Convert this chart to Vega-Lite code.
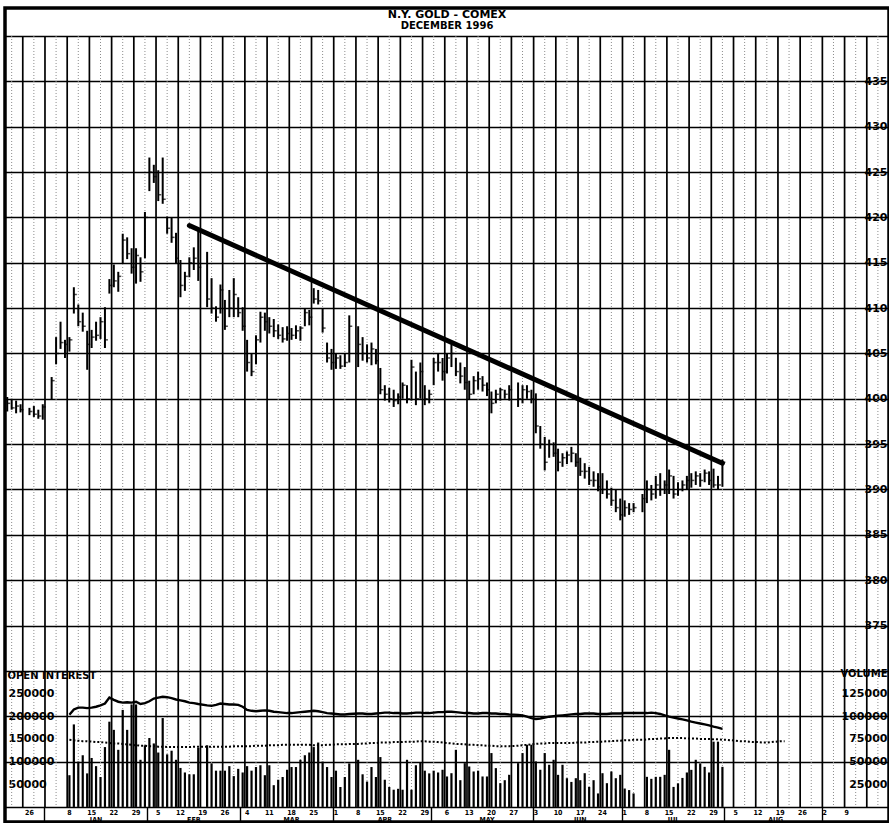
{
  "$schema": "https://vega.github.io/schema/vega-lite/v6.json",
  "width": 884,
  "height": 814,
  "autosize": "none",
  "padding": {"left": 5, "top": 8, "right": 0, "bottom": 1},
  "background": "white",
  "config": {
    "view": {"stroke": "black", "strokeWidth": 3.5},
    "axis": {"labelColor": "black", "titleColor": "black", "labelFont": "DejaVu Sans", "titleFont": "DejaVu Sans", "labelFontWeight": "bold", "titleFontWeight": "bold", "labelOverlap": false, "labelFlush": false}
  },
  "title": {
    "text": "N.Y. GOLD - COMEX",
    "subtitle": "DECEMBER 1996",
    "anchor": "middle",
    "frame": "group",
    "offset": -23,
    "font": "DejaVu Sans",
    "fontSize": 11,
    "fontWeight": "bold",
    "color": "black",
    "subtitleFont": "DejaVu Sans",
    "subtitleFontSize": 10,
    "subtitleFontWeight": "bold",
    "subtitleColor": "black",
    "subtitlePadding": 1
  },
  "datasets": {
    "weeks": [
      {"d": "1995-12-25"}, {"d": "1996-01-01"}, {"d": "1996-01-08"}, {"d": "1996-01-15"}, {"d": "1996-01-22"}, {"d": "1996-01-29"},
      {"d": "1996-02-05"}, {"d": "1996-02-12"}, {"d": "1996-02-19"}, {"d": "1996-02-26"}, {"d": "1996-03-04"}, {"d": "1996-03-11"},
      {"d": "1996-03-18"}, {"d": "1996-03-25"}, {"d": "1996-04-01"}, {"d": "1996-04-08"}, {"d": "1996-04-15"}, {"d": "1996-04-22"},
      {"d": "1996-04-29"}, {"d": "1996-05-06"}, {"d": "1996-05-13"}, {"d": "1996-05-20"}, {"d": "1996-05-27"}, {"d": "1996-06-03"},
      {"d": "1996-06-10"}, {"d": "1996-06-17"}, {"d": "1996-06-24"}, {"d": "1996-07-01"}, {"d": "1996-07-08"}, {"d": "1996-07-15"},
      {"d": "1996-07-22"}, {"d": "1996-07-29"}, {"d": "1996-08-05"}, {"d": "1996-08-12"}, {"d": "1996-08-19"}, {"d": "1996-08-26"},
      {"d": "1996-09-02"}, {"d": "1996-09-09"}, {"d": "1996-09-16"}
    ],
    "mids": [
      {"d": "1995-12-20"}, {"d": "1995-12-27"}, {"d": "1996-01-03"}, {"d": "1996-01-10"}, {"d": "1996-01-17"}, {"d": "1996-01-24"},
      {"d": "1996-01-31"}, {"d": "1996-02-07"}, {"d": "1996-02-14"}, {"d": "1996-02-21"}, {"d": "1996-02-28"}, {"d": "1996-03-06"},
      {"d": "1996-03-13"}, {"d": "1996-03-20"}, {"d": "1996-03-27"}, {"d": "1996-04-03"}, {"d": "1996-04-10"}, {"d": "1996-04-17"},
      {"d": "1996-04-24"}, {"d": "1996-05-01"}, {"d": "1996-05-08"}, {"d": "1996-05-15"}, {"d": "1996-05-22"}, {"d": "1996-05-29"},
      {"d": "1996-06-05"}, {"d": "1996-06-12"}, {"d": "1996-06-19"}, {"d": "1996-06-26"}, {"d": "1996-07-03"}, {"d": "1996-07-10"},
      {"d": "1996-07-17"}, {"d": "1996-07-24"}, {"d": "1996-07-31"}, {"d": "1996-08-07"}, {"d": "1996-08-14"}, {"d": "1996-08-21"},
      {"d": "1996-08-28"}, {"d": "1996-09-04"}, {"d": "1996-09-11"}, {"d": "1996-09-18"}
    ],
    "trend": [
      {"d": "1996-02-14", "p": 419.1},
      {"d": "1996-07-31", "p": 392.9}
    ],
    "days": [
      {"d": "1995-12-19", "h": 400.2, "l": 398.6, "c": 399.5},
      {"d": "1995-12-20", "h": 400.0, "l": 398.8, "c": 399.0},
      {"d": "1995-12-21", "h": 399.8, "l": 398.4, "c": 399.2},
      {"d": "1995-12-22", "h": 399.4, "l": 398.5, "c": 398.8},
      {"d": "1995-12-26", "h": 399.0, "l": 398.2, "c": 398.6},
      {"d": "1995-12-27", "h": 399.2, "l": 398.0, "c": 398.3},
      {"d": "1995-12-28", "h": 398.8, "l": 397.8, "c": 398.1},
      {"d": "1995-12-29", "h": 399.4, "l": 397.7, "c": 399.1},
      {"d": "1996-01-02", "h": 402.4, "l": 399.9, "c": 402.0},
      {"d": "1996-01-03", "h": 406.8, "l": 403.8, "c": 405.0},
      {"d": "1996-01-04", "h": 408.5, "l": 405.5, "c": 406.2},
      {"d": "1996-01-05", "h": 406.5, "l": 404.5, "c": 406.0},
      {"d": "1996-01-08", "h": 406.8, "l": 405.2, "c": 406.5, "v": 35000, "oi": 203500, "oi2": 148000},
      {"d": "1996-01-09", "h": 412.3, "l": 409.4, "c": 411.5, "v": 91000, "oi": 215000, "oi2": 147000},
      {"d": "1996-01-10", "h": 410.4, "l": 408.0, "c": 408.5, "v": 50000, "oi": 219000, "oi2": 146000},
      {"d": "1996-01-11", "h": 409.5, "l": 407.4, "c": 408.0, "v": 57000, "oi": 219000, "oi2": 145000},
      {"d": "1996-01-12", "h": 407.5, "l": 403.2, "c": 406.0, "v": 37000, "oi": 218000, "oi2": 145000},
      {"d": "1996-01-15", "h": 407.6, "l": 405.6, "c": 406.8, "v": 54000, "oi": 219000, "oi2": 144000},
      {"d": "1996-01-16", "h": 408.5, "l": 406.4, "c": 407.0, "v": 45000, "oi": 221000, "oi2": 143000},
      {"d": "1996-01-17", "h": 409.0, "l": 406.6, "c": 408.5, "v": 33000, "oi": 224000, "oi2": 143000},
      {"d": "1996-01-18", "h": 410.1, "l": 405.6, "c": 406.5, "v": 66000, "oi": 228000, "oi2": 142000},
      {"d": "1996-01-19", "h": 413.2, "l": 411.6, "c": 412.5, "v": 94000, "oi": 241000, "oi2": 141000},
      {"d": "1996-01-22", "h": 414.8, "l": 412.3, "c": 413.0, "v": 85000, "oi": 236000, "oi2": 140000},
      {"d": "1996-01-23", "h": 414.0, "l": 411.8, "c": 413.5, "v": 63000, "oi": 232000, "oi2": 140000},
      {"d": "1996-01-24", "h": 418.2, "l": 414.9, "c": 417.5, "v": 107000, "oi": 230000, "oi2": 139000},
      {"d": "1996-01-25", "h": 417.8, "l": 415.4, "c": 416.0, "v": 85000, "oi": 231000, "oi2": 138000},
      {"d": "1996-01-26", "h": 416.6, "l": 413.8, "c": 414.5, "v": 113000, "oi": 230000, "oi2": 137000},
      {"d": "1996-01-29", "h": 416.6, "l": 412.7, "c": 415.8, "v": 113000, "oi": 232000, "oi2": 136000},
      {"d": "1996-01-30", "h": 415.6, "l": 412.9, "c": 414.0, "v": 52000, "oi": 227000, "oi2": 135000},
      {"d": "1996-01-31", "h": 420.6, "l": 415.5, "c": 420.0, "v": 68000, "oi": 229000, "oi2": 135000},
      {"d": "1996-02-01", "h": 426.6, "l": 422.9, "c": 425.0, "v": 76000, "oi": 233000, "oi2": 134000},
      {"d": "1996-02-02", "h": 425.8, "l": 423.8, "c": 424.5, "v": 70000, "oi": 239000, "oi2": 134000},
      {"d": "1996-02-05", "h": 425.2, "l": 421.8, "c": 422.5, "v": 60000, "oi": 241000, "oi2": 133000},
      {"d": "1996-02-06", "h": 426.6, "l": 421.5, "c": 422.0, "v": 98000, "oi": 243000, "oi2": 133000},
      {"d": "1996-02-07", "h": 420.1, "l": 418.2, "c": 418.8, "v": 58000, "oi": 242000, "oi2": 132000},
      {"d": "1996-02-08", "h": 420.0, "l": 417.2, "c": 417.8, "v": 62000, "oi": 240000, "oi2": 132000},
      {"d": "1996-02-09", "h": 418.3, "l": 414.9, "c": 415.5, "v": 52000, "oi": 237000, "oi2": 132000},
      {"d": "1996-02-12", "h": 415.3, "l": 411.2, "c": 412.5, "v": 43000, "oi": 235000, "oi2": 132000},
      {"d": "1996-02-13", "h": 414.0, "l": 411.9, "c": 413.5, "v": 38000, "oi": 233000, "oi2": 132000},
      {"d": "1996-02-14", "h": 415.6, "l": 413.4, "c": 415.0, "v": 36000, "oi": 230000, "oi2": 132000},
      {"d": "1996-02-15", "h": 416.7, "l": 414.2, "c": 415.5, "v": 36000, "oi": 229000, "oi2": 133000},
      {"d": "1996-02-16", "h": 418.8, "l": 413.0, "c": 414.5, "v": 65000, "oi": 227000, "oi2": 133000},
      {"d": "1996-02-20", "h": 416.2, "l": 410.1, "c": 411.0, "v": 68000, "oi": 224000, "oi2": 133000},
      {"d": "1996-02-21", "h": 413.3, "l": 409.4, "c": 410.0, "v": 48000, "oi": 223000, "oi2": 133000},
      {"d": "1996-02-22", "h": 410.2, "l": 408.5, "c": 409.0, "v": 40000, "oi": 225000, "oi2": 133000},
      {"d": "1996-02-23", "h": 412.6, "l": 409.4, "c": 412.0, "v": 40000, "oi": 228000, "oi2": 133000},
      {"d": "1996-02-26", "h": 410.9, "l": 407.6, "c": 408.0, "v": 40000, "oi": 227000, "oi2": 133000},
      {"d": "1996-02-27", "h": 412.0, "l": 409.0, "c": 410.0, "v": 45000, "oi": 226000, "oi2": 133000},
      {"d": "1996-02-28", "h": 413.3, "l": 409.0, "c": 411.5, "v": 34000, "oi": 226000, "oi2": 134000},
      {"d": "1996-02-29", "h": 411.2, "l": 409.0, "c": 409.5, "v": 42000, "oi": 225000, "oi2": 134000},
      {"d": "1996-03-01", "h": 410.1, "l": 407.5, "c": 408.0, "v": 38000, "oi": 221000, "oi2": 134000},
      {"d": "1996-03-04", "h": 406.5, "l": 403.0, "c": 404.0, "v": 45000, "oi": 214000, "oi2": 134000},
      {"d": "1996-03-05", "h": 405.0, "l": 402.5, "c": 403.0, "v": 40000, "oi": 212000, "oi2": 134000},
      {"d": "1996-03-06", "h": 407.0, "l": 403.8, "c": 406.5, "v": 44000, "oi": 211000, "oi2": 135000},
      {"d": "1996-03-07", "h": 409.6, "l": 406.2, "c": 409.0, "v": 46000, "oi": 212000, "oi2": 135000},
      {"d": "1996-03-08", "h": 409.5, "l": 407.5, "c": 408.5, "v": 35000, "oi": 213000, "oi2": 135000},
      {"d": "1996-03-11", "h": 409.0, "l": 407.2, "c": 408.0, "v": 46000, "oi": 212000, "oi2": 136000},
      {"d": "1996-03-12", "h": 408.8, "l": 406.8, "c": 407.5, "v": 24000, "oi": 210000, "oi2": 136000},
      {"d": "1996-03-13", "h": 408.2, "l": 406.6, "c": 407.0, "v": 30000, "oi": 209000, "oi2": 136000},
      {"d": "1996-03-14", "h": 407.9, "l": 406.2, "c": 406.6, "v": 33000, "oi": 208000, "oi2": 137000},
      {"d": "1996-03-15", "h": 408.0, "l": 406.4, "c": 407.2, "v": 41000, "oi": 207000, "oi2": 137000},
      {"d": "1996-03-18", "h": 407.8, "l": 406.5, "c": 407.0, "v": 44000, "oi": 207000, "oi2": 137000},
      {"d": "1996-03-19", "h": 408.1, "l": 406.6, "c": 407.5, "v": 44000, "oi": 208000, "oi2": 137000},
      {"d": "1996-03-20", "h": 408.0, "l": 406.4, "c": 407.8, "v": 52000, "oi": 209000, "oi2": 137000},
      {"d": "1996-03-21", "h": 410.0, "l": 408.0, "c": 409.5, "v": 57000, "oi": 210000, "oi2": 137000},
      {"d": "1996-03-22", "h": 409.8, "l": 408.1, "c": 409.0, "v": 60000, "oi": 211000, "oi2": 137000},
      {"d": "1996-03-25", "h": 412.2, "l": 410.5, "c": 411.0, "v": 66000, "oi": 212000, "oi2": 136000},
      {"d": "1996-03-26", "h": 412.0, "l": 410.4, "c": 410.8, "v": 71000, "oi": 211000, "oi2": 136000},
      {"d": "1996-03-27", "h": 410.0, "l": 407.3, "c": 407.8, "v": 50000, "oi": 209000, "oi2": 136000},
      {"d": "1996-03-28", "h": 406.2, "l": 404.0, "c": 404.5, "v": 44000, "oi": 207000, "oi2": 137000},
      {"d": "1996-03-29", "h": 405.5, "l": 403.2, "c": 404.0, "v": 33000, "oi": 206000, "oi2": 137000},
      {"d": "1996-04-01", "h": 405.0, "l": 403.3, "c": 404.5, "v": 40000, "oi": 205000, "oi2": 138000},
      {"d": "1996-04-02", "h": 404.8, "l": 403.3, "c": 403.6, "v": 22000, "oi": 204000, "oi2": 138000},
      {"d": "1996-04-03", "h": 405.0, "l": 403.5, "c": 404.0, "v": 33000, "oi": 204000, "oi2": 138000},
      {"d": "1996-04-04", "h": 409.2, "l": 404.0, "c": 408.0, "v": 48000, "oi": 205000, "oi2": 139000},
      {"d": "1996-04-08", "h": 408.0, "l": 403.5, "c": 406.0, "v": 52000, "oi": 206000, "oi2": 139000},
      {"d": "1996-04-09", "h": 406.8, "l": 404.2, "c": 405.0, "v": 36000, "oi": 206000, "oi2": 140000},
      {"d": "1996-04-10", "h": 406.0, "l": 404.0, "c": 404.5, "v": 28000, "oi": 205000, "oi2": 140000},
      {"d": "1996-04-11", "h": 406.2, "l": 403.7, "c": 405.5, "v": 44000, "oi": 205000, "oi2": 141000},
      {"d": "1996-04-12", "h": 405.5, "l": 403.8, "c": 404.2, "v": 33000, "oi": 206000, "oi2": 141000},
      {"d": "1996-04-15", "h": 403.4, "l": 400.5, "c": 401.0, "v": 55000, "oi": 207000, "oi2": 142000},
      {"d": "1996-04-16", "h": 401.5, "l": 399.8, "c": 400.5, "v": 30000, "oi": 208000, "oi2": 142000},
      {"d": "1996-04-17", "h": 401.2, "l": 399.6, "c": 400.0, "v": 22000, "oi": 208000, "oi2": 142000},
      {"d": "1996-04-18", "h": 401.0, "l": 399.1, "c": 399.8, "v": 19000, "oi": 207000, "oi2": 143000},
      {"d": "1996-04-19", "h": 400.6, "l": 399.4, "c": 400.2, "v": 20000, "oi": 207000, "oi2": 143000},
      {"d": "1996-04-22", "h": 401.8, "l": 400.0, "c": 401.5, "v": 19000, "oi": 206000, "oi2": 143000},
      {"d": "1996-04-23", "h": 401.5, "l": 399.5, "c": 400.0, "v": 52000, "oi": 206000, "oi2": 144000},
      {"d": "1996-04-24", "h": 404.3, "l": 399.8, "c": 403.5, "v": 19000, "oi": 207000, "oi2": 144000},
      {"d": "1996-04-25", "h": 403.0, "l": 399.3, "c": 400.0, "v": 46000, "oi": 208000, "oi2": 144000},
      {"d": "1996-04-26", "h": 404.0, "l": 400.0, "c": 403.0, "v": 49000, "oi": 208000, "oi2": 145000},
      {"d": "1996-04-29", "h": 401.5, "l": 399.3, "c": 400.0, "v": 40000, "oi": 207000, "oi2": 145000},
      {"d": "1996-04-30", "h": 401.0, "l": 399.5, "c": 400.5, "v": 37000, "oi": 207000, "oi2": 144000},
      {"d": "1996-05-01", "h": 404.5, "l": 401.5, "c": 404.0, "v": 40000, "oi": 208000, "oi2": 144000},
      {"d": "1996-05-02", "h": 405.0, "l": 403.0, "c": 404.0, "v": 38000, "oi": 209000, "oi2": 143000},
      {"d": "1996-05-03", "h": 404.5, "l": 402.0, "c": 403.0, "v": 41000, "oi": 209000, "oi2": 142000},
      {"d": "1996-05-06", "h": 405.0, "l": 402.8, "c": 404.5, "v": 33600, "oi": 210000, "oi2": 141000},
      {"d": "1996-05-07", "h": 406.0, "l": 403.5, "c": 405.0, "v": 37200, "oi": 210000, "oi2": 140000},
      {"d": "1996-05-08", "h": 404.5, "l": 402.5, "c": 403.0, "v": 63000, "oi": 209000, "oi2": 139000},
      {"d": "1996-05-09", "h": 404.0, "l": 401.7, "c": 402.5, "v": 29500, "oi": 208000, "oi2": 139000},
      {"d": "1996-05-10", "h": 403.5, "l": 401.0, "c": 401.8, "v": 48300, "oi": 207000, "oi2": 138000},
      {"d": "1996-05-13", "h": 402.0, "l": 399.9, "c": 400.5, "v": 44600, "oi": 207000, "oi2": 137000},
      {"d": "1996-05-14", "h": 402.5, "l": 400.5, "c": 402.0, "v": 39100, "oi": 206000, "oi2": 137000},
      {"d": "1996-05-15", "h": 403.0, "l": 401.0, "c": 402.2, "v": 40000, "oi": 206000, "oi2": 136000},
      {"d": "1996-05-16", "h": 402.5, "l": 400.8, "c": 401.5, "v": 33600, "oi": 207000, "oi2": 136000},
      {"d": "1996-05-17", "h": 401.8, "l": 400.3, "c": 401.0, "v": 33600, "oi": 207000, "oi2": 135000},
      {"d": "1996-05-20", "h": 400.8, "l": 398.4, "c": 399.5, "v": 59400, "oi": 206000, "oi2": 135000},
      {"d": "1996-05-21", "h": 401.0, "l": 399.5, "c": 400.5, "v": 42800, "oi": 206000, "oi2": 134000},
      {"d": "1996-05-22", "h": 401.2, "l": 399.8, "c": 401.0, "v": 26200, "oi": 205000, "oi2": 134000},
      {"d": "1996-05-23", "h": 401.0, "l": 400.0, "c": 400.5, "v": 29500, "oi": 205000, "oi2": 134000},
      {"d": "1996-05-24", "h": 401.5, "l": 399.8, "c": 401.0, "v": 35400, "oi": 204000, "oi2": 134000},
      {"d": "1996-05-28", "h": 401.8, "l": 399.1, "c": 400.0, "v": 48300, "oi": 203000, "oi2": 135000},
      {"d": "1996-05-29", "h": 401.5, "l": 399.5, "c": 401.0, "v": 59400, "oi": 202000, "oi2": 136000},
      {"d": "1996-05-30", "h": 401.5, "l": 400.0, "c": 400.8, "v": 68600, "oi": 199000, "oi2": 137000},
      {"d": "1996-05-31", "h": 401.0, "l": 399.5, "c": 400.0, "v": 68600, "oi": 196000, "oi2": 138000},
      {"d": "1996-06-03", "h": 400.6, "l": 396.2, "c": 397.0, "v": 50200, "oi": 194000, "oi2": 139000},
      {"d": "1996-06-04", "h": 397.0, "l": 394.5, "c": 395.0, "v": 41000, "oi": 195000, "oi2": 140000},
      {"d": "1996-06-05", "h": 395.8, "l": 392.1, "c": 393.0, "v": 59400, "oi": 197000, "oi2": 140000},
      {"d": "1996-06-06", "h": 395.5, "l": 393.5, "c": 395.0, "v": 46500, "oi": 199000, "oi2": 141000},
      {"d": "1996-06-07", "h": 395.2, "l": 393.6, "c": 394.0, "v": 52000, "oi": 200000, "oi2": 141000},
      {"d": "1996-06-10", "h": 394.5, "l": 392.0, "c": 393.0, "v": 35400, "oi": 201000, "oi2": 141000},
      {"d": "1996-06-11", "h": 394.0, "l": 392.5, "c": 393.5, "v": 46500, "oi": 202000, "oi2": 141000},
      {"d": "1996-06-12", "h": 394.2, "l": 392.8, "c": 393.8, "v": 31700, "oi": 203000, "oi2": 141000},
      {"d": "1996-06-13", "h": 394.7, "l": 393.0, "c": 394.0, "v": 27600, "oi": 204000, "oi2": 141000},
      {"d": "1996-06-14", "h": 394.0, "l": 392.5, "c": 393.0, "v": 31700, "oi": 205000, "oi2": 142000},
      {"d": "1996-06-17", "h": 393.5, "l": 391.5, "c": 392.0, "v": 29500, "oi": 205000, "oi2": 142000},
      {"d": "1996-06-18", "h": 392.9, "l": 391.2, "c": 392.0, "v": 37200, "oi": 206000, "oi2": 142000},
      {"d": "1996-06-19", "h": 392.5, "l": 390.5, "c": 391.0, "v": 22100, "oi": 206000, "oi2": 143000},
      {"d": "1996-06-20", "h": 392.0, "l": 390.3, "c": 391.0, "v": 29500, "oi": 206000, "oi2": 143000},
      {"d": "1996-06-21", "h": 391.8, "l": 389.8, "c": 390.3, "v": 14900, "oi": 205000, "oi2": 144000},
      {"d": "1996-06-24", "h": 391.8, "l": 389.5, "c": 390.0, "v": 37200, "oi": 205000, "oi2": 144000},
      {"d": "1996-06-25", "h": 391.0, "l": 389.0, "c": 389.5, "v": 26200, "oi": 205000, "oi2": 145000},
      {"d": "1996-06-26", "h": 390.2, "l": 388.2, "c": 388.8, "v": 39100, "oi": 206000, "oi2": 145000},
      {"d": "1996-06-27", "h": 390.0, "l": 387.5, "c": 388.0, "v": 31700, "oi": 206000, "oi2": 146000},
      {"d": "1996-06-28", "h": 389.0, "l": 386.6, "c": 387.2, "v": 35400, "oi": 206000, "oi2": 146000},
      {"d": "1996-07-01", "h": 388.8, "l": 387.0, "c": 388.0, "v": 20300, "oi": 207000, "oi2": 147000},
      {"d": "1996-07-02", "h": 388.5, "l": 387.2, "c": 387.8, "v": 18600, "oi": 207000, "oi2": 147000},
      {"d": "1996-07-03", "h": 388.5, "l": 387.5, "c": 388.0, "v": 14900, "oi": 207000, "oi2": 148000},
      {"d": "1996-07-05", "h": 389.5, "l": 387.5, "c": 389.0, "oi": 207000, "oi2": 148000},
      {"d": "1996-07-08", "h": 391.0, "l": 388.5, "c": 390.0, "v": 33200, "oi": 207000, "oi2": 149000},
      {"d": "1996-07-09", "h": 390.5, "l": 388.8, "c": 389.5, "v": 31000, "oi": 208000, "oi2": 150000},
      {"d": "1996-07-10", "h": 391.5, "l": 389.0, "c": 390.5, "v": 33200, "oi": 207000, "oi2": 150000},
      {"d": "1996-07-11", "h": 391.8, "l": 389.3, "c": 390.0, "v": 33200, "oi": 205000, "oi2": 151000},
      {"d": "1996-07-12", "h": 391.0, "l": 389.5, "c": 390.5, "v": 35400, "oi": 202000, "oi2": 151000},
      {"d": "1996-07-15", "h": 392.2, "l": 389.5, "c": 391.5, "v": 63000, "oi": 199000, "oi2": 152000},
      {"d": "1996-07-16", "h": 391.5, "l": 389.0, "c": 389.5, "v": 22100, "oi": 197000, "oi2": 152000},
      {"d": "1996-07-17", "h": 390.8, "l": 389.3, "c": 390.0, "v": 26000, "oi": 195000, "oi2": 152000},
      {"d": "1996-07-18", "h": 391.0, "l": 389.8, "c": 390.5, "v": 32000, "oi": 193000, "oi2": 152000},
      {"d": "1996-07-19", "h": 391.5, "l": 390.0, "c": 391.0, "v": 38000, "oi": 191000, "oi2": 151000},
      {"d": "1996-07-22", "h": 391.8, "l": 390.2, "c": 391.0, "v": 40900, "oi": 188000, "oi2": 151000},
      {"d": "1996-07-23", "h": 392.0, "l": 390.5, "c": 391.5, "v": 52000, "oi": 186000, "oi2": 151000},
      {"d": "1996-07-24", "h": 391.8, "l": 390.3, "c": 391.0, "v": 48000, "oi": 184000, "oi2": 150000},
      {"d": "1996-07-25", "h": 392.2, "l": 390.8, "c": 391.8, "v": 44200, "oi": 182000, "oi2": 150000},
      {"d": "1996-07-26", "h": 392.0, "l": 390.5, "c": 391.0, "v": 38000, "oi": 180000, "oi2": 150000},
      {"d": "1996-07-29", "h": 392.3, "l": 390.2, "c": 390.5, "v": 72000, "oi": 177000, "oi2": 149000},
      {"d": "1996-07-30", "h": 391.5, "l": 390.0, "c": 390.5, "v": 72000, "oi": 175000, "oi2": 149000},
      {"d": "1996-07-31", "h": 393.3, "l": 390.3, "c": 393.0, "v": 44200, "oi": 172000, "oi2": 148000},
      {"d": "1996-08-01", "oi2": 148000},
      {"d": "1996-08-02", "oi2": 147000},
      {"d": "1996-08-05", "oi2": 146000},
      {"d": "1996-08-06", "oi2": 145000},
      {"d": "1996-08-07", "oi2": 145000},
      {"d": "1996-08-08", "oi2": 144000},
      {"d": "1996-08-09", "oi2": 143000},
      {"d": "1996-08-12", "oi2": 143000},
      {"d": "1996-08-13", "oi2": 142000},
      {"d": "1996-08-14", "oi2": 142000},
      {"d": "1996-08-15", "oi2": 143000},
      {"d": "1996-08-16", "oi2": 144000},
      {"d": "1996-08-19", "oi2": 145000},
      {"d": "1996-08-20", "oi2": 145000}
    ]
  },
  "layer": [
    {
      "encoding": {
        "x": {
          "field": "d",
          "type": "ordinal",
          "scale": {
            "type": "band",
            "paddingInner": 0,
            "paddingOuter": 0,
            "domain": [
              "1995-12-19","1995-12-20","1995-12-21","1995-12-22","1995-12-25","1995-12-26","1995-12-27","1995-12-28","1995-12-29",
              "1996-01-01","1996-01-02","1996-01-03","1996-01-04","1996-01-05","1996-01-08","1996-01-09","1996-01-10","1996-01-11","1996-01-12",
              "1996-01-15","1996-01-16","1996-01-17","1996-01-18","1996-01-19","1996-01-22","1996-01-23","1996-01-24","1996-01-25","1996-01-26",
              "1996-01-29","1996-01-30","1996-01-31","1996-02-01","1996-02-02","1996-02-05","1996-02-06","1996-02-07","1996-02-08","1996-02-09",
              "1996-02-12","1996-02-13","1996-02-14","1996-02-15","1996-02-16","1996-02-19","1996-02-20","1996-02-21","1996-02-22","1996-02-23",
              "1996-02-26","1996-02-27","1996-02-28","1996-02-29","1996-03-01","1996-03-04","1996-03-05","1996-03-06","1996-03-07","1996-03-08",
              "1996-03-11","1996-03-12","1996-03-13","1996-03-14","1996-03-15","1996-03-18","1996-03-19","1996-03-20","1996-03-21","1996-03-22",
              "1996-03-25","1996-03-26","1996-03-27","1996-03-28","1996-03-29","1996-04-01","1996-04-02","1996-04-03","1996-04-04","1996-04-05",
              "1996-04-08","1996-04-09","1996-04-10","1996-04-11","1996-04-12","1996-04-15","1996-04-16","1996-04-17","1996-04-18","1996-04-19",
              "1996-04-22","1996-04-23","1996-04-24","1996-04-25","1996-04-26","1996-04-29","1996-04-30","1996-05-01","1996-05-02","1996-05-03",
              "1996-05-06","1996-05-07","1996-05-08","1996-05-09","1996-05-10","1996-05-13","1996-05-14","1996-05-15","1996-05-16","1996-05-17",
              "1996-05-20","1996-05-21","1996-05-22","1996-05-23","1996-05-24","1996-05-27","1996-05-28","1996-05-29","1996-05-30","1996-05-31",
              "1996-06-03","1996-06-04","1996-06-05","1996-06-06","1996-06-07","1996-06-10","1996-06-11","1996-06-12","1996-06-13","1996-06-14",
              "1996-06-17","1996-06-18","1996-06-19","1996-06-20","1996-06-21","1996-06-24","1996-06-25","1996-06-26","1996-06-27","1996-06-28",
              "1996-07-01","1996-07-02","1996-07-03","1996-07-04","1996-07-05","1996-07-08","1996-07-09","1996-07-10","1996-07-11","1996-07-12",
              "1996-07-15","1996-07-16","1996-07-17","1996-07-18","1996-07-19","1996-07-22","1996-07-23","1996-07-24","1996-07-25","1996-07-26",
              "1996-07-29","1996-07-30","1996-07-31","1996-08-01","1996-08-02","1996-08-05","1996-08-06","1996-08-07","1996-08-08","1996-08-09",
              "1996-08-12","1996-08-13","1996-08-14","1996-08-15","1996-08-16","1996-08-19","1996-08-20","1996-08-21","1996-08-22","1996-08-23",
              "1996-08-26","1996-08-27","1996-08-28","1996-08-29","1996-08-30","1996-09-02","1996-09-03","1996-09-04","1996-09-05","1996-09-06",
              "1996-09-09","1996-09-10","1996-09-11","1996-09-12","1996-09-13","1996-09-16","1996-09-17","1996-09-18","1996-09-19","1996-09-20"
            ]
          },
          "axis": {
            "orient": "bottom",
            "title": null,
            "values": ["1995-12-26","1996-01-08","1996-01-15","1996-01-22","1996-01-29","1996-02-05","1996-02-12","1996-02-19","1996-02-26",
                       "1996-03-04","1996-03-11","1996-03-18","1996-03-25","1996-04-01","1996-04-08","1996-04-15","1996-04-22","1996-04-29",
                       "1996-05-06","1996-05-13","1996-05-20","1996-05-27","1996-06-03","1996-06-10","1996-06-17","1996-06-24","1996-07-01",
                       "1996-07-08","1996-07-15","1996-07-22","1996-07-29","1996-08-05","1996-08-12","1996-08-19","1996-08-26","1996-09-02","1996-09-09"],
            "bandPosition": 0,
            "labelExpr": "'' + toNumber(slice(datum.value, 8))",
            "grid": false,
            "domain": false,
            "ticks": false,
            "labelAngle": 0,
            "labelPadding": -14,
            "labelBaseline": "top",
            "labelFontSize": 7,
            "labelFont": "DejaVu Sans Condensed"
          }
        }
      },
      "layer": [
        {
          "data": {"name": "weeks"},
          "mark": {"type": "rule", "color": "black", "strokeWidth": 1.7},
          "encoding": {
            "x": {"field": "d", "type": "ordinal", "bandPosition": 0},
            "y": {"datum": 440},
            "y2": {"datum": 355}
          }
        },
        {
          "data": {"name": "mids"},
          "mark": {"type": "rule", "color": "#8a8a8a", "strokeWidth": 1, "strokeDash": [1, 2]},
          "encoding": {
            "y": {"datum": 440},
            "y2": {"datum": 355}
          }
        },
        {
          "data": {"name": "days"},
          "mark": {"type": "rule", "color": "black", "strokeWidth": 2},
          "encoding": {
            "y": {
              "field": "h",
              "type": "quantitative",
              "scale": {"domain": [353.34, 443.087], "nice": false, "zero": false},
              "axis": {
                "orient": "right",
                "title": null,
                "values": [355,356.25,357.5,358.75,360,361.25,362.5,363.75,365,366.25,367.5,368.75,370,371.25,372.5,373.75,375,376.25,377.5,378.75,380,381.25,382.5,383.75,385,386.25,387.5,388.75,390,391.25,392.5,393.75,395,396.25,397.5,398.75,400,401.25,402.5,403.75,405,406.25,407.5,408.75,410,411.25,412.5,413.75,415,416.25,417.5,418.75,420,421.25,422.5,423.75,425,426.25,427.5,428.75,430,431.25,432.5,433.75,435,436.25,437.5,438.75,440],
                "labelExpr": "(datum.value % 5 == 0 && datum.value >= 375 && datum.value <= 435) ? '' + datum.value : ''",
                "grid": true,
                "gridColor": {"condition": {"test": "datum.value % 2.5 == 0", "value": "black"}, "value": "#8a8a8a"},
                "gridDash": {"condition": {"test": "datum.value % 2.5 == 0", "value": []}, "value": [1, 2]},
                "gridWidth": {"condition": {"test": "datum.value % 2.5 == 0", "value": 1.7}, "value": 1},
                "gridOpacity": 1,
                "domain": false,
                "ticks": false,
                "labelAlign": "right",
                "labelBaseline": "middle",
                "labelPadding": -2,
                "labelFontSize": 11
              }
            },
            "y2": {"field": "l"}
          }
        },
        {
          "data": {"name": "days"},
          "mark": {"type": "tick", "orient": "horizontal", "color": "black", "thickness": 1.5, "size": 3, "xOffset": 1.5},
          "encoding": {
            "y": {"field": "c", "type": "quantitative"}
          }
        },
        {
          "data": {"name": "trend"},
          "mark": {"type": "line", "color": "black", "strokeWidth": 5, "strokeCap": "round"},
          "encoding": {
            "y": {"field": "p", "type": "quantitative"}
          }
        }
      ]
    },
    {
      "data": {"name": "days"},
      "encoding": {
        "x": {
          "field": "d",
          "type": "ordinal",
          "scale": {"type": "band", "paddingInner": 0, "paddingOuter": 0},
          "axis": {
            "orient": "bottom",
            "title": null,
            "values": ["1996-01-16","1996-02-15","1996-03-18","1996-04-16","1996-05-17","1996-06-17","1996-07-16","1996-08-16"],
            "bandPosition": 0,
            "labelExpr": "['JAN','FEB','MAR','APR','MAY','JUN','JUL','AUG','SEP'][toNumber(slice(datum.value, 5, 7)) - 1]",
            "grid": false,
            "domain": false,
            "ticks": false,
            "labelAngle": 0,
            "labelPadding": -7,
            "labelBaseline": "top",
            "labelFontSize": 7,
            "labelFont": "DejaVu Sans Condensed"
          }
        }
      },
      "layer": [
        {
          "mark": {"type": "line", "color": "black", "strokeWidth": 2.4},
          "encoding": {
            "y": {
              "field": "oi",
              "type": "quantitative",
              "scale": {"domain": [-33200, 1761740], "nice": false, "zero": false},
              "axis": {
                "orient": "left",
                "values": [50000, 100000, 150000, 200000, 250000],
                "format": "d",
                "grid": false,
                "domain": false,
                "ticks": false,
                "labelAlign": "left",
                "labelBaseline": "middle",
                "labelPadding": -3,
                "labelFontSize": 11,
                "title": "OPEN INTEREST",
                "titleAngle": 0,
                "titleAlign": "left",
                "titleBaseline": "middle",
                "titleX": 2,
                "titleY": 667,
                "titleFontSize": 10
              }
            }
          }
        },
        {
          "mark": {"type": "line", "color": "black", "strokeWidth": 2, "strokeDash": [2, 2]},
          "encoding": {
            "y": {"field": "oi2", "type": "quantitative"}
          }
        }
      ]
    },
    {
      "data": {"name": "days"},
      "mark": {"type": "rule", "color": "black", "strokeWidth": 2.2},
      "encoding": {
        "x": {
          "field": "d",
          "type": "ordinal",
          "scale": {"type": "band", "paddingInner": 0, "paddingOuter": 0},
          "axis": {
            "orient": "bottom",
            "title": null,
            "values": ["1996-01-01","1996-02-01","1996-03-01","1996-04-01","1996-05-01","1996-06-03","1996-07-01","1996-08-01","1996-09-02"],
            "bandPosition": 0,
            "labels": false,
            "grid": false,
            "domain": false,
            "ticks": true,
            "tickSize": -15,
            "tickColor": "black",
            "tickWidth": 1.4
          }
        },
        "y": {
          "field": "v",
          "type": "quantitative",
          "scale": {"domain": [-16600, 880870], "nice": false, "zero": false},
          "axis": {
            "orient": "right",
            "values": [25000, 50000, 75000, 100000, 125000],
            "format": "d",
            "grid": false,
            "domain": false,
            "ticks": false,
            "labelAlign": "right",
            "labelBaseline": "middle",
            "labelPadding": -2,
            "labelFontSize": 11,
            "title": "VOLUME",
            "titleAngle": 0,
            "titleAlign": "right",
            "titleBaseline": "middle",
            "titleX": -2,
            "titleY": 665,
            "titleFontSize": 10
          }
        },
        "y2": {"datum": 0}
      }
    }
  ],
  "resolve": {"scale": {"y": "independent"}, "axis": {"x": "independent"}}
}
